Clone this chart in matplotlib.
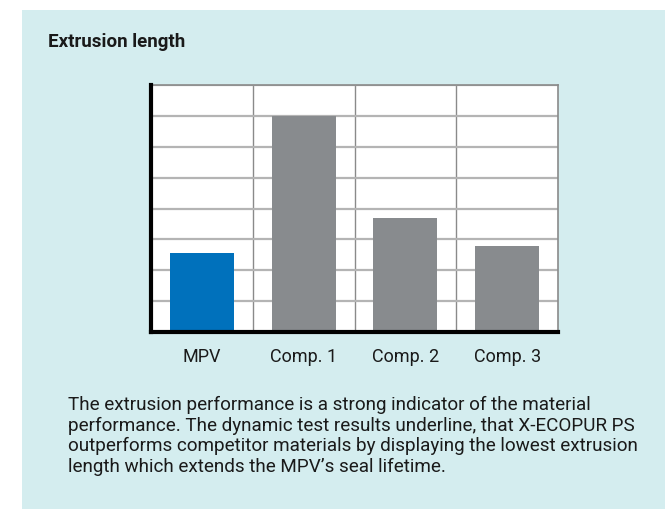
import matplotlib.pyplot as plt
from matplotlib.patches import Rectangle

# values (arbitrary units, 8 grid steps)
categories = ['MPV', 'Comp. 1', 'Comp. 2', 'Comp. 3']
extrusion = [2.55, 7.0, 3.68, 2.77]
bar_colors = ['#0071bc', '#888b8e', '#888b8e', '#888b8e']

title = 'Extrusion length'
caption = ('The extrusion performance is a strong indicator of the material\n'
           'performance. The dynamic test results underline, that X-ECOPUR PS\n'
           'outperforms competitor materials by displaying the lowest extrusion\n'
           'length which extends the MPV\u2019s seal lifetime.')

plt.rcParams['font.family'] = ['Roboto', 'DejaVu Sans']

W, H = 665, 510
fig = plt.figure(figsize=(W / 100, H / 100), dpi=100)
fig.patch.set_facecolor('white')

# teal panel behind everything
bg = fig.add_axes([0, 0, 1, 1], zorder=-1)
bg.axis('off')
bg.add_patch(Rectangle((22 / W, 0), 1 - 22 / W, 1 - 11 / H,
                       transform=bg.transAxes, facecolor='#d4edef',
                       edgecolor='none'))

fig.text(48 / W, 1 - 42 / H, title, fontsize=13.5, fontweight='bold',
         color='#1a1a1a', va='center', ha='left')

ax = fig.add_axes([151 / W, (H - 333) / H, 407 / W, 247 / H])
ax.set_facecolor('white')
x = range(len(categories))
ax.bar(x, extrusion, width=0.63, color=bar_colors, zorder=3)

ax.set_xlim(-0.5, len(categories) - 0.5)
ax.set_ylim(0, 8)
ax.set_yticks(range(0, 9))
ax.set_xticks([i + 0.5 for i in range(len(categories) - 1)], minor=False)
ax.set_xticks(list(x), minor=True)
ax.set_xticklabels([])
ax.set_xticklabels(categories, minor=True)
ax.tick_params(axis='x', which='major', length=0)
ax.tick_params(axis='x', which='minor', length=0, pad=11, labelsize=13,
               labelcolor='#1a1a1a')
ax.tick_params(axis='y', length=0, labelleft=False)
ax.grid(True, axis='y', color='#b4b4b4', linewidth=1.6, zorder=1)
ax.grid(True, axis='x', which='major', color='#8a8a8a', linewidth=1.0, zorder=1)

for side in ['top', 'right']:
    ax.spines[side].set_color('#8a8a8a')
    ax.spines[side].set_linewidth(1.2)
for side in ['left', 'bottom']:
    ax.spines[side].set_color('black')
    ax.spines[side].set_linewidth(3)
    ax.spines[side].set_zorder(5)

fig.text(68 / W, 1 - 396 / H, caption, fontsize=13.55, color='#1a1a1a',
         va='top', ha='left', linespacing=1.17)

fig.savefig('out.png', dpi=100)
